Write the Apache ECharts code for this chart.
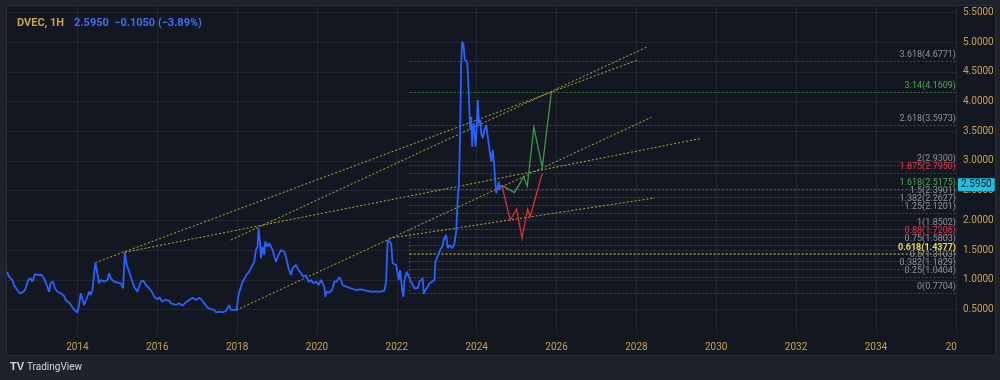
<!DOCTYPE html>
<html><head><meta charset="utf-8">
<script src="https://cdn.jsdelivr.net/npm/echarts@6/dist/echarts.min.js"></script>
<style>html,body{margin:0;padding:0;background:#1e222d;}#c{width:1000px;height:380px;}</style>
</head><body><div id="c"></div>
<script>
// ---- data ----
const priceYears = [2012.24,2012.285,2012.368,2012.41,2012.493,2012.553,2012.618,2012.686,2012.769,2012.829,
2012.869,2012.937,2013.037,2013.105,2013.162,2013.245,2013.288,2013.33,2013.388,2013.438,
2013.496,2013.581,2013.664,2013.707,2013.747,2013.807,2013.89,2013.94,2013.997,2014.04,
2014.083,2014.123,2014.166,2014.208,2014.248,2014.291,2014.334,2014.374,2014.416,2014.449,
2014.499,2014.542,2014.584,2014.667,2014.75,2014.792,2014.835,2014.918,2014.96,2015.001,
2015.043,2015.086,2015.143,2015.186,2015.236,2015.294,2015.362,2015.419,2015.502,2015.545,
2015.587,2015.652,2015.713,2015.795,2015.863,2015.921,2016.004,2016.064,2016.114,2016.197,
2016.297,2016.34,2016.465,2016.548,2016.63,2016.716,2016.798,2016.881,2016.966,2017.049,
2017.117,2017.175,2017.257,2017.343,2017.425,2017.468,2017.551,2017.633,2017.719,2017.801,
2017.844,2017.927,2017.984,2018.035,2018.07,2018.135,2018.178,2018.235,2018.303,2018.346,
2018.386,2018.428,2018.471,2018.511,2018.536,2018.571,2018.596,2018.636,2018.679,2018.704,
2018.762,2018.804,2018.887,2018.972,2019.038,2019.098,2019.181,2019.223,2019.288,2019.349,
2019.389,2019.474,2019.539,2019.599,2019.657,2019.725,2019.79,2019.85,2019.908,2019.975,
2020.041,2020.101,2020.141,2020.184,2020.209,2020.241,2020.309,2020.377,2020.434,2020.492,
2020.56,2020.602,2020.642,2020.728,2020.853,2020.978,2021.104,2021.229,2021.355,2021.48,
2021.605,2021.688,2021.731,2021.771,2021.813,2021.856,2021.896,2021.939,2021.982,2022.047,
2022.082,2022.132,2022.165,2022.19,2022.247,2022.315,2022.358,2022.398,2022.44,2022.483,
2022.523,2022.566,2022.608,2022.648,2022.674,2022.716,2022.774,2022.817,2022.884,2022.942,
2022.967,2023.0,2023.05,2023.085,2023.135,2023.175,2023.235,2023.275,2023.318,2023.386,
2023.443,2023.486,2023.526,2023.551,2023.569,2023.586,2023.611,2023.636,2023.669,2023.702,
2023.737,2023.762,2023.787,2023.82,2023.837,2023.862,2023.887,2023.902,2023.928,2023.97,
2024.003,2024.028,2024.053,2024.088,2024.113,2024.153,2024.196,2024.238,2024.278,2024.321,
2024.364,2024.404,2024.446,2024.489,2024.529,2024.554,2024.572,2024.605];
const priceValues = [1.138,1.054,0.998,0.914,0.830,0.775,0.785,0.830,0.998,1.027,
0.970,1.099,1.082,1.082,1.027,0.886,0.801,0.943,0.970,0.859,
0.801,0.775,0.729,0.662,0.674,0.606,0.522,0.494,0.448,0.578,
0.775,0.801,0.578,0.549,0.717,0.801,0.746,0.830,0.830,1.289,
1.111,0.943,0.998,0.970,0.998,1.111,1.027,0.970,0.998,0.953,
0.970,0.943,0.859,1.464,1.251,1.138,0.998,0.886,0.801,0.830,
0.970,0.987,0.914,0.859,0.801,0.717,0.674,0.707,0.633,0.662,
0.650,0.606,0.578,0.606,0.566,0.623,0.662,0.701,0.662,0.701,
0.662,0.606,0.532,0.510,0.494,0.455,0.465,0.455,0.477,0.578,
0.494,0.494,0.494,0.746,0.830,0.970,0.943,1.082,1.138,1.195,
1.251,1.306,1.503,1.558,1.868,1.643,1.363,1.558,1.419,1.643,
1.558,1.616,1.503,1.306,1.419,1.503,1.474,1.390,1.195,1.082,
1.195,1.251,1.166,1.111,1.054,1.082,0.970,0.998,0.943,0.970,
0.914,0.998,1.027,0.886,0.717,0.801,0.785,0.830,0.970,0.970,
1.044,0.998,0.914,0.886,0.859,0.830,0.842,0.818,0.801,0.801,
0.801,0.818,0.970,1.671,1.700,1.616,1.279,1.306,1.251,0.998,
1.166,0.830,0.717,0.998,1.138,1.027,0.998,0.914,0.859,0.830,
0.859,0.970,0.970,1.027,0.763,0.830,0.886,0.943,0.970,0.998,
1.306,1.363,1.390,1.503,1.558,1.671,1.755,1.532,1.587,1.532,
1.616,1.811,2.399,2.568,2.961,3.521,4.643,5.007,4.951,4.699,
4.728,4.670,4.362,3.802,3.521,3.745,3.241,3.521,3.634,3.241,
3.577,4.026,3.634,3.690,3.466,3.382,3.521,3.606,3.409,3.185,
2.988,3.185,2.849,2.457,2.568,2.652,2.512,2.595];

const yTicks = [0.5,1,1.5,2,2.5,3,3.5,4,4.5,5,5.5];
const xTicks = [2014,2016,2018,2020,2022,2024,2026,2028,2030,2032,2034,2036];

const fibRatios = ['0','0.25','0.382','0.5','0.618','0.75','0.88','1','1.25','1.382','1.5','1.618','1.875','2','2.618','3.14','3.618'];
const fibPrices = [0.7704,1.0404,1.1829,1.3103,1.4377,1.5803,1.7206,1.8502,2.1201,2.2627,2.3901,2.5175,2.7950,2.9300,3.5973,4.1609,4.6771];
const fibStartYear = 2022.32;

const trendStarts = [[2014.449,1.289],[2017.844,1.671],[2015.186,1.464],[2017.984,0.494],[2021.813,1.700]];
const trendEnds   = [[2028.025,4.699],[2028.251,4.913],[2029.587,3.375],[2028.376,3.735],[2028.458,2.378]];

const bullYears  = [2024.63,2024.948,2025.174,2025.267,2025.432,2025.643,2025.87];
const bullValues = [2.59,2.467,2.736,2.579,3.567,2.894,4.16];
const bearYears  = [2024.63,2024.840,2024.998,2025.136,2025.274,2025.341,2025.643];
const bearValues = [2.59,2.008,2.193,1.700,2.193,2.066,2.795];

const lastPrice = 2.595;
const X_MIN = 2012.235, X_MAX = 2036.031, Y_MIN = 0.073, Y_MAX = 5.607;

// ---- styles ----
const AXIS_TXT = '#c9a347';
const GRID_CLR = 'rgba(54,58,70,0.45)';
function fibStyle(r){
  if (r === '0.618') return {line:'rgba(190,175,60,0.6)', text:'#ecdc4a', width:2, bold:'bold'};
  if (r === '0.88' || r === '1.875') return {line:'rgba(200,45,58,0.65)', text:'#f23645', width:1, bold:'normal'};
  if (r === '1.618' || r === '3.14') return {line:'rgba(70,150,75,0.7)', text:'#4caf50', width:1, bold:'normal'};
  return {line:'rgba(120,123,134,0.5)', text:'#8f929b', width:1, bold:'normal'};
}

const zip = (a,b) => a.map((v,i)=>[v,b[i]]);

const fibMarks = fibRatios.map((r,i)=>{
  const s = fibStyle(r);
  return [
    {coord:[fibStartYear, fibPrices[i]], lineStyle:{color:s.line, width:s.width, type:[2,2]},
     label:{show:true, position:'insideEndTop', distance:[1,2], formatter: r + '(' + fibPrices[i].toFixed(4) + ')',
            color:s.text, fontSize:9, fontWeight:s.bold, fontFamily:'Roboto'}},
    {coord:[X_MAX, fibPrices[i]]}
  ];
});

const series = [];
series.push({
  type:'line', data: zip(priceYears, priceValues), showSymbol:false, symbol:'none',
  lineStyle:{color:'#2962ff', width:1.8}, z:5,
  markLine:{silent:true, symbol:'none', animation:false, data: fibMarks}
});
// last price tag on the price scale
series.push({
  type:'line', data:[[priceYears[priceYears.length-1], lastPrice]], symbol:'none', showSymbol:false, clip:false, z:10,
  lineStyle:{width:0},
  markLine:{silent:true, symbol:'none', animation:false, data:[
    {yAxis:lastPrice, lineStyle:{color:'rgba(0,0,0,0)', width:0},
     label:{show:true, position:'end', distance:1, formatter: lastPrice.toFixed(4), color:'#131722',
            backgroundColor:'#22bfe0', padding:[2,3,1,3], fontSize:10, fontFamily:'Roboto'}}
  ]}
});
// fib anchor dotted vertical
series.push({type:'line', data:[[fibStartYear, fibPrices[7]],[fibStartYear, fibPrices[0]]], symbol:'none',
  lineStyle:{color:'rgba(120,123,134,0.6)', width:1, type:[2,2]}, z:3});
// trend lines
trendStarts.forEach((p,i)=>{
  series.push({type:'line', data:[p, trendEnds[i]], symbol:'none',
    lineStyle:{color:'rgba(205,185,60,0.9)', width:1, type:[2,2]}, z:4});
});
// projections
series.push({type:'lines', coordinateSystem:'cartesian2d', polyline:true, z:6,
  symbol:['none','arrow'], symbolSize:7,
  lineStyle:{color:'#3f9a45', width:1.3, opacity:1},
  data:[{coords: zip(bullYears, bullValues)}]});
series.push({type:'lines', coordinateSystem:'cartesian2d', polyline:true, z:6,
  symbol:['none','arrow'], symbolSize:7,
  lineStyle:{color:'#d8313c', width:1.3, opacity:1},
  data:[{coords: zip(bearYears, bearValues)}]});

const chart = echarts.init(document.getElementById('c'), null, {renderer:'canvas'});
chart.setOption({
  animation:false,
  backgroundColor:'#1e222d',
  graphic:[
    {type:'rect', z:-100, shape:{x:6.5,y:5.5,width:989,height:350}, style:{fill:'#131722', stroke:'#2a2e39', lineWidth:1}},
    {type:'text', z:10, left:10, top:361, style:{text:'TV', fill:'#d1d4dc', font:'bold 11px "Liberation Sans"'}},
    {type:'text', z:10, left:27, top:362, style:{text:'TradingView', fill:'#d1d4dc', font:'10px "Liberation Sans Narrow", "Roboto"'}}
  ],
  title:{left:12, top:9, text:'{a|DVEC, 1H}  {b|2.5950  −0.1050 (−3.89%)}',
    textStyle:{rich:{a:{color:'#c9a347', fontSize:11, fontFamily:'Roboto'}, b:{color:'#3d70f5', fontSize:11, fontFamily:'Roboto'}}}},
  grid:{left:7, right:43, top:6, bottom:45},
  xAxis:{type:'value', min:X_MIN, max:X_MAX,
    axisLine:{show:false}, axisTick:{show:false, customValues:xTicks},
    axisLabel:{customValues:xTicks, color:AXIS_TXT, fontSize:10, fontFamily:'Roboto', margin:7,
      formatter:v => v === 2036 ? '{r|20}' : String(v), rich:{r:{color:AXIS_TXT, fontSize:10, fontFamily:'Roboto', padding:[0,9,0,0]}}},
    splitLine:{show:true, lineStyle:{color:GRID_CLR, width:1}}},
  yAxis:{type:'value', position:'right', min:Y_MIN, max:Y_MAX,
    axisLine:{show:false}, axisTick:{show:false, customValues:yTicks},
    axisLabel:{customValues:yTicks, color:AXIS_TXT, fontSize:10, fontFamily:'Roboto', margin:6,
      formatter:v => v.toFixed(4)},
    splitLine:{show:true, lineStyle:{color:GRID_CLR, width:1}}},
  series
});
</script></body></html>
